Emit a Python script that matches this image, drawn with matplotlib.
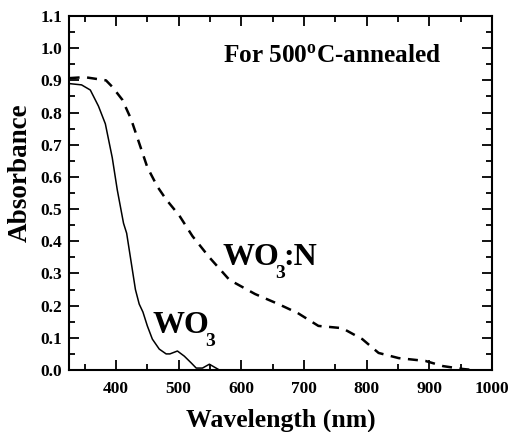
import matplotlib
matplotlib.use("Agg")
import matplotlib.pyplot as plt
from matplotlib.ticker import MultipleLocator

plt.rcParams['font.family'] = ['Liberation Serif', 'DejaVu Serif']
plt.rcParams['font.weight'] = 'bold'
plt.rcParams['mathtext.fontset'] = 'custom'
plt.rcParams['mathtext.rm'] = 'Liberation Serif:bold'
plt.rcParams['mathtext.bf'] = 'Liberation Serif:bold'
plt.rcParams['mathtext.it'] = 'Liberation Serif:bold'

# WO3 (solid)
wo3_nm = [325, 345, 359, 372, 383, 394, 402, 412, 417, 423, 431, 437, 443, 450,
          458, 469, 480, 486, 498, 509, 520, 528, 538, 549, 565]
wo3_abs = [0.89, 0.886, 0.87, 0.82, 0.765, 0.66, 0.56, 0.456, 0.425, 0.35, 0.25,
           0.205, 0.18, 0.137, 0.096, 0.065, 0.05, 0.05, 0.059, 0.043, 0.022,
           0.006, 0.006, 0.018, 0.0]

# WO3:N (dashed)
won_nm = [326, 350, 384, 394, 410, 424, 437, 450, 466, 480, 501, 522, 549, 581,
          622, 659, 690, 723, 761, 793, 819, 851, 894, 922, 954, 970]
won_abs = [0.907, 0.91, 0.90, 0.88, 0.84, 0.78, 0.705, 0.63, 0.57, 0.53, 0.48,
           0.416, 0.35, 0.28, 0.236, 0.205, 0.177, 0.137, 0.13, 0.096, 0.053,
           0.037, 0.028, 0.012, 0.003, 0.0]

fig = plt.figure(figsize=(5.1, 4.32), dpi=100)
ax = fig.add_axes([69/510, 62/432, (492-69)/510, (370-16)/432])

ax.plot(wo3_nm, wo3_abs, color='black', lw=1.1)
ax.plot(won_nm, won_abs, color='black', lw=1.8, dashes=(4, 3))

ax.set_xlim(325, 1000)
ax.set_ylim(0.0, 1.1)
ax.xaxis.set_major_locator(MultipleLocator(100))
ax.xaxis.set_minor_locator(MultipleLocator(50))
ax.yaxis.set_major_locator(MultipleLocator(0.1))
ax.yaxis.set_minor_locator(MultipleLocator(0.05))
ax.set_xticks([400, 500, 600, 700, 800, 900, 1000])
ax.set_xticklabels(['400', '500', '600', '700', '800', '900', '1000'])
ax.set_yticks([0.0, 0.1, 0.2, 0.3, 0.4, 0.5, 0.6, 0.7, 0.8, 0.9, 1.0, 1.1])
ax.set_yticklabels(['0.0', '0.1', '0.2', '0.3', '0.4', '0.5', '0.6', '0.7',
                    '0.8', '0.9', '1.0', '1.1'])

ax.tick_params(which='both', direction='in', top=True, right=True,
               labelsize=12.5, width=1.3)
ax.tick_params(which='major', length=7)
ax.tick_params(which='minor', length=4)
ax.tick_params(axis='x', pad=8)
ax.tick_params(axis='y', pad=5)
for s in ax.spines.values():
    s.set_linewidth(1.5)

ax.set_xlabel('Wavelength (nm)', fontsize=18.5, fontweight='bold', labelpad=8)
ax.set_ylabel('Absorbance', fontsize=19.5, fontweight='bold')
ax.yaxis.set_label_coords(-0.085, 0.556)

ax.text(570, 0.957, r'For 500$\mathregular{^o}$C-annealed', fontsize=18.2,
        fontweight='bold', va='baseline', ha='left')


def chem_label(x, y, suffix=''):
    t_main = ax.text(x, y, 'WO', fontsize=23, fontweight='bold',
                     va='baseline', ha='left')
    t_sub = ax.annotate('3', xy=(1, 0), xycoords=t_main, xytext=(-3, -7.4),
                        textcoords='offset points', fontsize=14,
                        fontweight='bold', va='bottom', ha='left')
    if suffix:
        ax.annotate(suffix, xy=(1, 0), xycoords=(t_sub, t_main),
                    xytext=(-1, 0), textcoords='offset points', fontsize=23,
                    fontweight='bold', va='bottom', ha='left')


chem_label(570, 0.326, ':N')
chem_label(458, 0.115)

fig.savefig('out.png', dpi=100)
